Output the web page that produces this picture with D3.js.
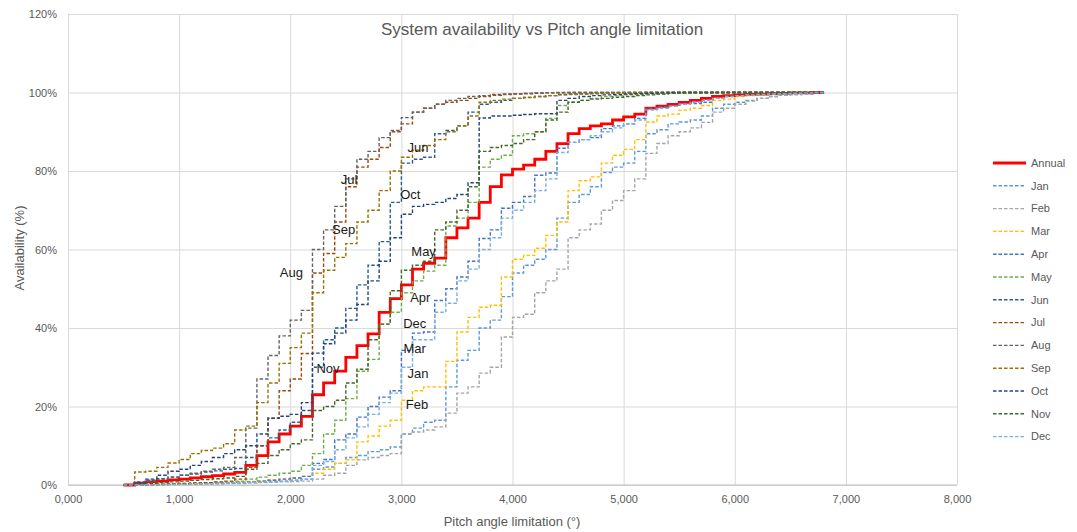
<!DOCTYPE html>
<html>
<head>
<meta charset="utf-8">
<script src="https://cdn.jsdelivr.net/npm/d3@7.9.0/dist/d3.min.js"></script>
<style>
  body { margin: 0; background: #fff; }
  text { font-family: "Liberation Sans", "Open Sans", sans-serif; }
</style>
</head>
<body>
<svg id="chart" width="1077" height="532"></svg>
<script>
// pitch limit (deg), value holds until next step
const pitch = [0.5,0.6,0.7,0.8,0.9,
  1.0,1.1,1.2,1.3,1.4,1.5,1.6,1.7,1.8,1.9,
  2.0,2.1,2.2,2.3,2.4,2.5,2.6,2.7,2.8,2.9,
  3.0,3.1,3.2,3.3,3.4,3.5,3.6,3.7,3.8,3.9,
  4.0,4.1,4.2,4.3,4.4,4.5,4.6,4.7,4.8,4.9,
  5.0,5.1,5.2,5.3,5.4,5.5,5.6,5.7,5.8,5.9,
  6.0,6.1,6.2,6.3,6.4,6.5,6.6,6.7,6.8];

const annual = [0,0.5,0.8,1.0,1.3,
  1.5,1.8,2.1,2.4,2.8,3.2,5.0,7.5,11,13,
  15,17.5,23,26,29,32.5,35.5,38.5,44,47.5,
  51,55,56.5,57.8,63,65.5,68,72,76,79,
  80.5,81.5,83,85,87,89.5,90.8,91.5,92,93,
  93.8,94.5,96,96.5,97,97.5,98,98.5,99,99.2,
  99.4,99.5,99.6,99.7,99.8,99.9,99.9,100,100];
const jan = [0,0,0.1,0.1,0.2,
  0.2,0.3,0.3,0.4,0.5,0.6,0.7,0.8,0.9,1.0,
  1.2,1.5,4,4.6,5.5,7,7.5,8.5,9,9.7,
  13,14.5,16,16.5,25,31.8,34.3,40,42,48,
  54,56,57.5,60,68,72,74,76,79.6,81,
  82,85,89.5,90.5,92,92.5,93,94,96,97,
  97.5,98,98.5,99,99.3,99.5,99.7,99.9,100];
const feb = [0,0,0,0.1,0.1,
  0.2,0.2,0.3,0.3,0.4,0.4,0.5,0.6,0.7,0.8,
  0.9,1.0,1.5,2.5,3,5,6.4,7,7.5,8,
  13,13.5,14,14.8,18.3,23.4,25,28.5,30,37.7,
  42.7,43.5,49,52,55,63,65,66.5,70,72.5,
  75,78,84.5,87,89,90,91,92.4,95,96,
  97,97.8,98.5,99,99.3,99.5,99.7,99.9,100];
const mar = [0,0,0.1,0.1,0.2,
  0.2,0.3,0.4,0.5,0.6,0.7,0.9,1.1,1.3,1.5,
  1.8,2.2,3,4,5.5,6.4,11,12.5,15,16.5,
  21.6,24,25,25,31.5,39,42.7,45.3,45.8,53,
  57.5,58.5,60.3,63.6,67,75,77.5,78.5,82,84,
  85.5,88,92.5,94,94.5,95.5,96,96.7,98,98.3,
  99,99.2,99.4,99.6,99.7,99.8,99.9,100,100];
const apr = [0,0,0.1,0.1,0.2,
  0.3,0.4,0.5,0.5,0.6,0.7,0.8,1.0,1.2,1.5,
  1.8,2.2,5.5,6.5,11.5,13,17.3,20,22.4,24,
  34.3,38.7,39,47,50,53,57,62.8,65,70.5,
  72,73.5,78.9,79.5,85.8,87.3,88,88.5,90.8,91.5,
  92,93.4,96,96.3,96.6,97,97.2,97.5,98.5,99,
  99.2,99.4,99.5,99.6,99.7,99.8,99.9,100,100];
const may = [0,0,0.1,0.2,0.3,
  0.4,0.5,0.6,0.7,0.8,1.0,1.5,2,2.5,3,
  3.5,5,8,13,16.5,22,29,32,41,44,
  49,52,54.5,56,66,68,72,81,83,84,
  89,89.5,90,93.4,96.7,97.5,98,98.5,99,99.2,
  99.4,99.5,99.6,99.7,99.8,99.8,99.9,99.9,100,100,
  100,100,100,100,100,100,100,100,100];
const jun = [0,0.8,1.2,1.6,2,
  2.5,2.8,3.3,3.6,4,4.2,7,10,12,14,
  16,19,30,37,40,45,51,56,62,72,
  82,83,83.5,89.5,90.3,91.5,95,97,97.5,98,
  98.5,98.7,99,99.2,99.5,99.6,99.7,99.8,99.8,99.9,
  99.9,99.9,100,100,100,100,100,100,100,100,
  100,100,100,100,100,100,100,100,100];
const jul = [0,0,0.1,0.2,0.3,
  0.4,0.5,0.6,0.8,1.0,1.5,4.5,10,17,24,
  27,33.5,54,59,67,76,81,83,86,90,
  92,95,96,97,97.5,98,98.5,99,99.3,99.5,
  99.6,99.7,99.8,99.9,99.9,100,100,100,100,100,
  100,100,100,100,100,100,100,100,100,100,
  100,100,100,100,100,100,100,100,100];
const aug = [0,0.5,1,1.5,2,
  2.5,3,3.5,4,4.5,7,14.5,27,33,38,
  42,44.5,60,65,71,78,83,85,88.5,90.3,
  93.6,95,96,97,98,98.5,99,99.2,99.5,99.6,
  99.7,99.8,99.9,99.9,100,100,100,100,100,100,
  100,100,100,100,100,100,100,100,100,100,
  100,100,100,100,100,100,100,100,100];
const sep = [0,3.3,3.5,4.5,5.6,
  6.5,8,8.8,9.4,10.5,14,15,21,26,31,
  35,38.7,49,54.7,58,61.5,67,70,75,80,
  83.5,85.3,86.5,88,90,91.5,94,97.5,98,98.3,
  98.5,98.8,99,99.2,99.4,99.5,99.6,99.7,99.8,99.9,
  100,100,100,100,100,100,100,100,100,100,
  100,100,100,100,100,100,100,100,100];
const oct = [0,0.5,1.5,2.5,3.5,
  4,5,6,7,8,9,10,13,17,17.5,
  18,21,33.6,36,38.7,42,46,52,57,63,
  69,71,71.5,72,73,74,77,93.5,94,94,
  94.2,94.4,94.6,94.6,98,98.5,99,99.2,99.4,99.5,
  99.6,99.7,99.8,99.9,100,100,100,100,100,100,
  100,100,100,100,100,100,100,100,100];
const nov = [0,0.2,0.4,0.6,0.8,
  1.0,1.2,1.4,1.6,1.8,2.2,4,5.5,7.5,9,
  10.5,11.5,19,20,21.6,26,29.5,37,41,49.5,
  54.7,56,57,65,67,70,76,85,86,86.5,
  87,88,90,93,95,97.5,98,98.3,98.5,98.8,
  99,99.2,99.4,99.6,99.8,100,100,100,100,100,
  100,100,100,100,100,100,100,100,100];
const dec = [0,0,0.1,0.1,0.2,
  0.2,0.3,0.3,0.4,0.5,0.6,0.7,0.8,0.9,1.0,
  1.2,1.5,5,6,9,12,14.8,18,21,23.4,
  30,37,37,44,46.3,52,55,60,63,68,
  70,72,75,78,84.7,87.3,88,89,90,91,
  92,93,95.5,96,96.5,97,97.5,98,98.5,99,
  99.2,99.4,99.5,99.6,99.7,99.8,99.9,100,100];

const seriesNames = ['Annual','Jan','Feb','Mar','Apr','May','Jun','Jul','Aug','Sep','Oct','Nov','Dec'];
const seriesValues = [annual, jan, feb, mar, apr, may, jun, jul, aug, sep, oct, nov, dec];
const seriesColors = ['#FF0000','#5B9BD5','#A5A5A5','#FFC000','#4472C4','#70AD47',
  '#255E91','#9E480E','#636363','#997300','#264478','#43682B','#7CAFDD'];

const xTicks = [0,1,2,3,4,5,6,7,8];
const yTicks = [0,20,40,60,80,100,120];

// month labels sitting inside the plot
const labelNames = ['Jun','Jul','Oct','Sep','May','Aug','Apr','Dec','Mar','Jan','Nov','Feb'];
const labelPitch = [3.15,2.53,3.08,2.48,3.20,2.01,3.17,3.12,3.12,3.15,2.34,3.14];
const labelAvail = [85.9,77.9,74.0,65.1,59.4,54.2,47.7,41.2,34.8,28.4,29.8,20.6];

const svg = d3.select('#chart');
const x = d3.scaleLinear().domain([0, 8]).range([68, 957]);
const y = d3.scaleLinear().domain([0, 120]).range([485, 14]);

const deComma = d3.formatLocale({decimal: ',', thousands: '.', grouping: [3], currency: ['', '']});
const fmtX = deComma.format('.3f');

// grid
svg.append('g')
  .attr('transform', 'translate(0,485)')
  .call(d3.axisBottom(x).tickValues(xTicks).tickSize(-(485 - 14)).tickFormat(''))
  .call(g => g.select('.domain').remove())
  .call(g => g.selectAll('line').attr('stroke', '#d9d9d9'));
svg.append('g')
  .attr('transform', 'translate(68,0)')
  .call(d3.axisLeft(y).tickValues(yTicks).tickSize(-(957 - 68)).tickFormat(''))
  .call(g => g.select('.domain').remove())
  .call(g => g.selectAll('line').attr('stroke', '#d9d9d9'));
svg.append('line')
  .attr('x1', x(0)).attr('x2', x(8))
  .attr('y1', y(0)).attr('y2', y(0))
  .attr('stroke', '#bfbfbf');

// tick labels
svg.append('g')
  .attr('transform', 'translate(0,485)')
  .call(d3.axisBottom(x).tickValues(xTicks).tickSize(0).tickPadding(10).tickFormat(fmtX))
  .call(g => g.select('.domain').remove())
  .call(g => g.selectAll('text').attr('fill', '#595959').attr('font-size', 11)
    .attr('font-family', '"Liberation Sans", sans-serif'));
svg.append('g')
  .attr('transform', 'translate(68,0)')
  .call(d3.axisLeft(y).tickValues(yTicks).tickSize(0).tickPadding(11).tickFormat(d => d + '%'))
  .call(g => g.select('.domain').remove())
  .call(g => g.selectAll('text').attr('fill', '#595959').attr('font-size', 11)
    .attr('font-family', '"Liberation Sans", sans-serif'));

// lines
const line = d3.line()
  .x((d, i) => x(pitch[i]))
  .y(d => y(d))
  .curve(d3.curveStepAfter);

seriesValues.forEach((vals, i) => {
  svg.append('path')
    .attr('d', line(vals))
    .attr('fill', 'none')
    .attr('stroke', seriesColors[i])
    .attr('stroke-width', i === 0 ? 2.8 : 1.4)
    .attr('stroke-dasharray', i === 0 ? null : '3.5,2');
});

// in-plot month labels
labelNames.forEach((name, i) => {
  svg.append('text')
    .attr('x', x(labelPitch[i]))
    .attr('y', y(labelAvail[i]))
    .attr('dy', '0.35em')
    .attr('text-anchor', 'middle')
    .attr('font-size', 13)
    .attr('fill', '#1a1a1a')
    .text(name);
});

// titles
svg.append('text')
  .attr('x', 542).attr('y', 29).attr('dy', '0.35em')
  .attr('text-anchor', 'middle')
  .attr('font-size', 17).attr('fill', '#595959')
  .text('System availability vs Pitch angle limitation');
svg.append('text')
  .attr('x', 512).attr('y', 521).attr('dy', '0.35em')
  .attr('text-anchor', 'middle')
  .attr('font-size', 13).attr('fill', '#595959')
  .text('Pitch angle limitation (°)');
svg.append('text')
  .attr('transform', 'translate(19,248) rotate(-90)')
  .attr('dy', '0.35em')
  .attr('text-anchor', 'middle')
  .attr('font-size', 13).attr('fill', '#595959')
  .text('Availability (%)');

// legend
const legend = svg.append('g').attr('transform', 'translate(993,163)');
seriesNames.forEach((name, i) => {
  const row = legend.append('g').attr('transform', `translate(0,${i * 22.8})`);
  row.append('line')
    .attr('x1', 0).attr('x2', 33)
    .attr('stroke', seriesColors[i])
    .attr('stroke-width', i === 0 ? 2.8 : 1.4)
    .attr('stroke-dasharray', i === 0 ? null : '3.5,2');
  row.append('text')
    .attr('x', 38).attr('dy', '0.35em')
    .attr('font-size', 11).attr('fill', '#595959')
    .text(name);
});
</script>
</body>
</html>
